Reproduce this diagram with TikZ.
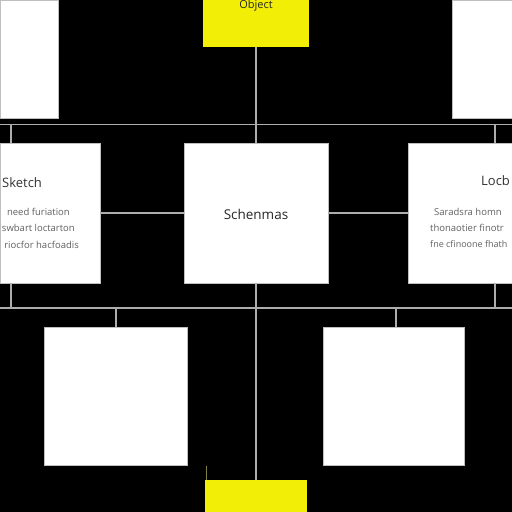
\documentclass[tikz,border=0pt]{standalone}
\usepackage{fontspec}
\setmainfont{Open Sans}
\definecolor{ylw}{HTML}{F2EE05}
\begin{document}
\begin{tikzpicture}[x=1pt,y=-1pt,
  box/.style={draw=black!25, line width=0.6pt, fill=white, inner sep=0pt, outer sep=0pt},
  ybox/.style={fill=ylw, draw=none, inner sep=0pt, outer sep=0pt},
  conn/.style={draw=black!32, line width=1.2pt},
  stub/.style={draw=yellow!45!black, line width=1pt},
  ttl/.style={font=\fontsize{13}{15}\selectfont, text=black!80, inner sep=0pt},
  body/.style={font=\fontsize{9.5}{11}\selectfont, text=black!62, inner sep=0pt},
  ytxt/.style={font=\fontsize{11}{12}\selectfont, text=black!85, inner sep=0pt}]
\useasboundingbox (0,0) rectangle (512,512);
\fill[black] (0,0) rectangle (512,512);

% boxes
\node[ybox, minimum width=106pt, minimum height=47pt] (top) at (256,23.5) {};
\node[box, minimum width=58pt, minimum height=118pt] (tl) at (29,59) {};
\node[box, minimum width=60pt, minimum height=118pt] (tr) at (482,59) {};
\node[box, minimum width=100pt, minimum height=140pt] (ml) at (50,213) {};
\node[box, minimum width=144pt, minimum height=140pt] (mc) at (256,213) {};
\node[box, minimum width=104pt, minimum height=140pt] (mr) at (460,213) {};
\node[box, minimum width=143pt, minimum height=138pt] (bl) at (116,396) {};
\node[box, minimum width=141pt, minimum height=138pt] (br) at (393.5,396) {};
\node[ybox, minimum width=102pt, minimum height=32pt] (bot) at (256,496) {};

% coordinates
\coordinate (hl1) at (0,124.5);
\coordinate (hr1) at (512,124.5);
\coordinate (j1) at (256,124.5);
\coordinate (t1) at (11,124.5);
\coordinate (t2) at (495,124.5);
\coordinate (hl2) at (0,308);
\coordinate (hr2) at (512,308);
\coordinate (b1) at (11,308);
\coordinate (b2) at (495,308);
\coordinate (c1) at (116,308);
\coordinate (c2) at (396,308);

% connectors
\draw[conn] (top) -- (j1);
\draw[conn] (hl1) -- (hr1);
\draw[conn] (t1) -- (t1 |- ml.north);
\draw[conn] (t2) -- (t2 |- mr.north);
\draw[conn] (j1) -- (mc);
\draw[conn] (ml) -- (mc);
\draw[conn] (mc) -- (mr);
\draw[conn] (b1 |- ml.south) -- (b1);
\draw[conn] (b2 |- mr.south) -- (b2);
\draw[conn] (hl2) -- (hr2);
\draw[conn] (mc) -- (bot);
\draw[conn] (c1) -- (c1 |- bl.north);
\draw[conn] (c2) -- (c2 |- br.north);
\draw[stub] ([xshift=1pt]bot.north west) -- ++(0,-14);

% texts
\node[ytxt] (ttop) at (256,5.5) {Object};
\node[font=\fontsize{13.5}{16}\selectfont, text=black!85, inner sep=0pt] (tmc) at (256,214) {Schenmas};
\node[ttl, anchor=west] (tml) at (2,183) {Sketch};
\node[body, anchor=east] (ml1) at (70,212) {need furiation};
\node[body, anchor=east] (ml2) at (75,228) {swbart loctarton};
\node[body, anchor=east] (ml3) at (79,245) {riocfor hacfoadis};
\node[ttl, anchor=west] (tmr) at (481,181) {Locb};
\node[body, anchor=west] (mr1) at (434,212) {Saradsra homn};
\node[body, anchor=west] (mr2) at (430,228) {thonaotier finotr};
\node[body, anchor=west, font=\fontsize{9}{11}\selectfont] (mr3) at (430,244) {fne cfinoone fhath};
\end{tikzpicture}
\end{document}
